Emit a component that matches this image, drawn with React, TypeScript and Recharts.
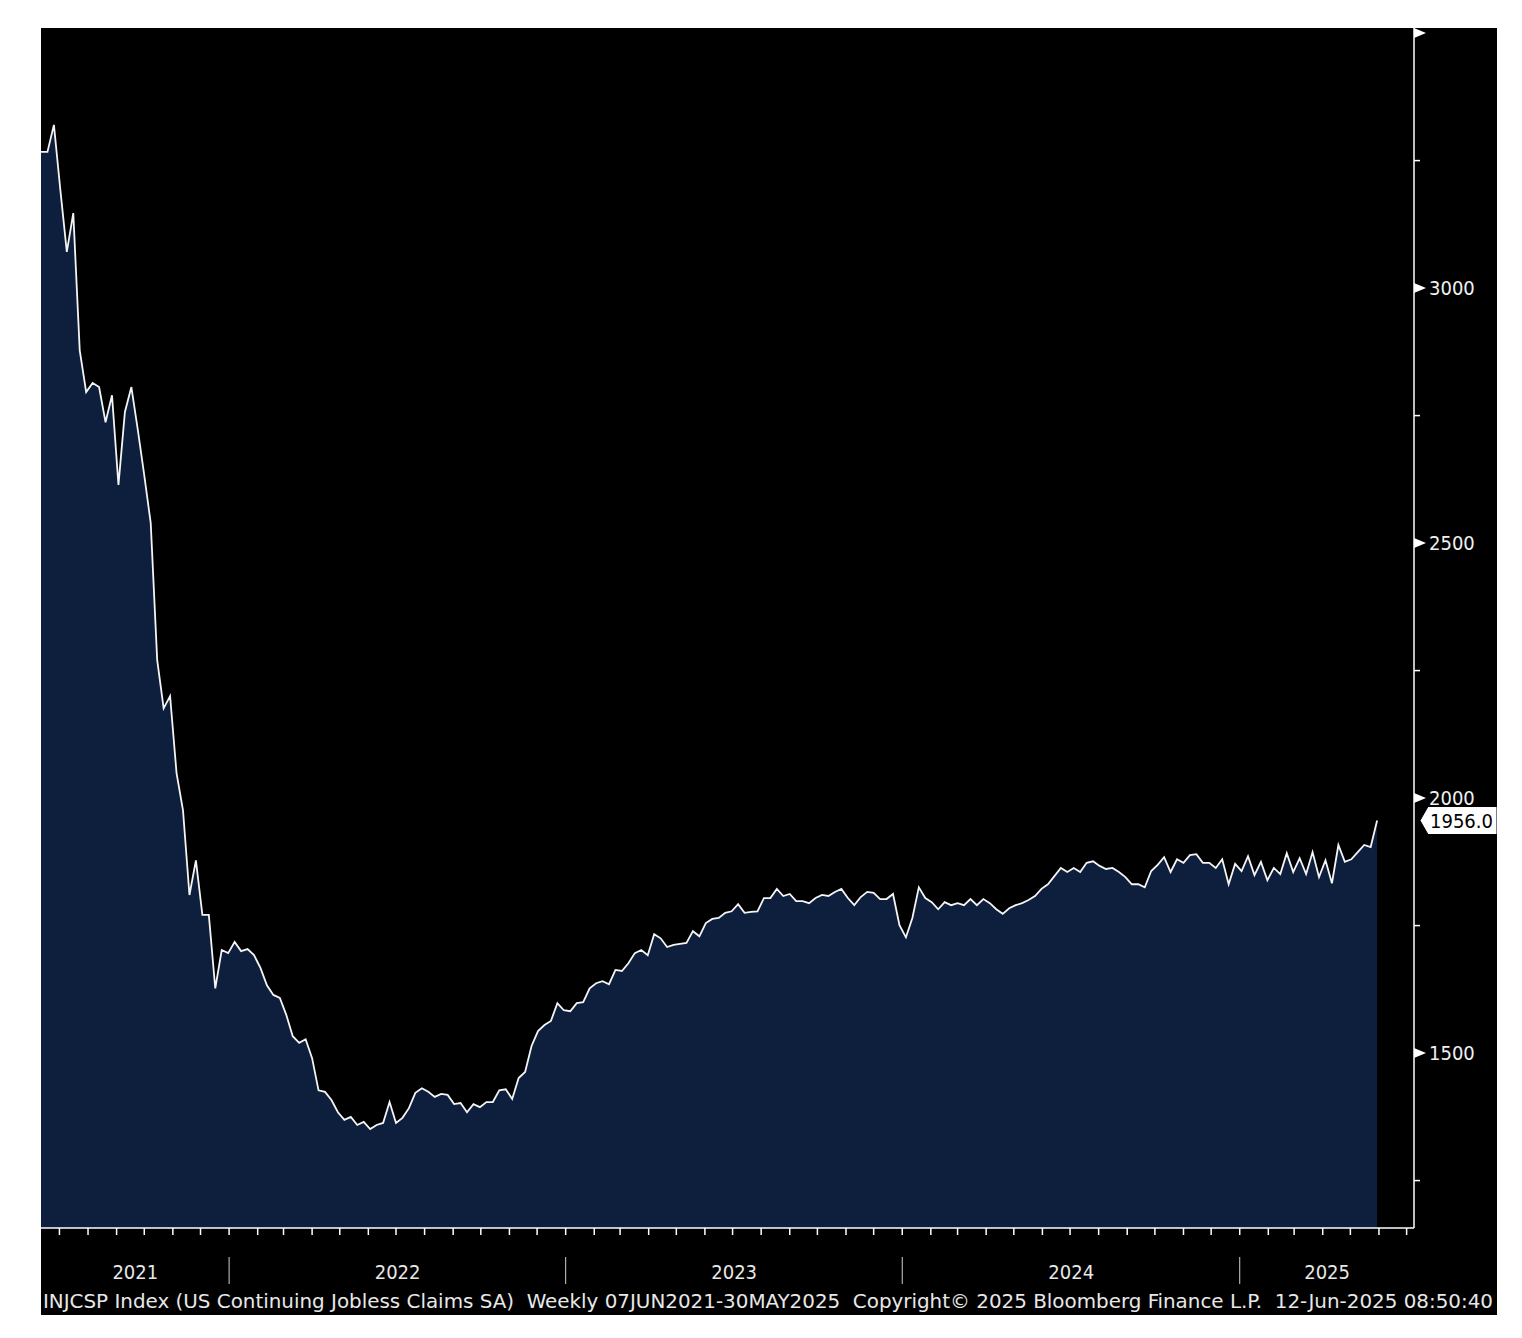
import { AreaChart, Area, XAxis, YAxis } from "recharts";

// weekly points, first plotted week (Fridays) through 30MAY2025
const startDate = "2021-06-11";
const claims = [
  3267, 3267, 3320, 3192, 3071, 3147, 2878, 2796, 2814, 2806, 2737, 2790, 2614, 2757, 2806, 2722, 2633, 2539,
  2271, 2176, 2200, 2049, 1976, 1810, 1878, 1771, 1771, 1627, 1702, 1696, 1718,
  1700, 1704, 1692, 1667, 1633, 1614, 1608, 1575, 1533, 1520, 1527, 1490, 1427, 1424, 1408, 1384, 1369, 1375,
  1359, 1365, 1351, 1359, 1363, 1404, 1363, 1373, 1392, 1422,
  1431, 1424, 1414, 1420, 1418, 1400, 1402, 1384, 1400, 1394, 1404, 1404, 1427, 1429, 1410, 1451, 1463, 1514,
  1543, 1555, 1563, 1598, 1584, 1582, 1598, 1600, 1627, 1637, 1641, 1635, 1663,
  1661, 1676, 1696, 1702, 1692, 1733, 1725, 1708, 1712, 1714, 1716, 1739, 1729, 1755, 1763, 1765, 1775, 1778,
  1792, 1775, 1777, 1778,
  1804, 1804, 1822, 1808, 1812, 1798, 1798, 1794, 1804, 1810, 1808, 1816, 1822, 1804, 1790, 1806, 1816, 1814,
  1802, 1802, 1812, 1751, 1727, 1765, 1825, 1804, 1796, 1782, 1796, 1790, 1794, 1790, 1802, 1790, 1802, 1794, 1782,
  1773, 1784, 1790, 1794, 1800, 1808, 1822, 1831, 1847, 1863, 1855, 1863, 1855, 1873, 1876, 1867, 1861, 1863,
  1855, 1845, 1831, 1831, 1825, 1857, 1869, 1884, 1855, 1880, 1873, 1888, 1890, 1873, 1873, 1863, 1880, 1831, 1871,
  1857, 1886, 1849, 1875, 1839, 1863, 1851, 1892, 1855, 1882, 1851, 1894, 1845, 1878, 1833, 1908, 1875, 1880,
  1894, 1908, 1904, 1956,
];
const yTicks = [3500, 3250, 3000, 2750, 2500, 2250, 2000, 1750, 1500, 1250];
const years = [2021, 2022, 2023, 2024, 2025];
const lastLabel = "1956.0";
const footer =
  "INJCSP Index (US Continuing Jobless Claims SA)  Weekly 07JUN2021-30MAY2025  Copyright\u00a9 2025 Bloomberg Finance L.P.  12-Jun-2025 08:50:40";

const FONT = "'DejaVu Sans Condensed', 'DejaVu Sans', sans-serif";
const DAY = 86400000;
const t0 = Date.parse(startDate + "T00:00:00Z");
const dayOf = (y: number, m: number, d: number) => Math.round((Date.UTC(y, m, d) - t0) / DAY);

const data = claims.map((v, i) => ({ day: i * 7, claims: v }));
const lastDay = 1489; // right edge of the plot, a few weeks past the last point
const lastValue = claims[claims.length - 1];

const monthTicks: number[] = [];
for (const y of years) {
  for (let m = 0; m < 12; m++) {
    const d = dayOf(y, m, 1);
    if (d > 0 && d <= lastDay) monthTicks.push(d);
  }
}
const yearStarts = new Set(years.slice(1).map((y) => dayOf(y, 0, 1)));
const bounds = [0, ...years.slice(1).map((y) => dayOf(y, 0, 1)), lastDay];
const labelAt = new Map<number, string>();
years.forEach((y, i) => labelAt.set((bounds[i] + bounds[i + 1]) / 2 + 0.25, String(y)));
const xTicks = [...monthTicks, ...labelAt.keys()];

const XTick = (props: any) => {
  const { x, y, payload } = props;
  const label = labelAt.get(payload.value);
  if (label) {
    return (
      <text x={x} y={y + 51} textAnchor="middle" fill="#e8e8e8" fontSize={20} fontFamily={FONT}>
        {label}
      </text>
    );
  }
  return (
    <g>
      <line x1={x} x2={x} y1={y} y2={y + 7} stroke="#fff" strokeWidth={1.5} />
      {yearStarts.has(payload.value) && (
        <line x1={x} x2={x} y1={y + 29} y2={y + 56} stroke="#d0d0d0" strokeWidth={1} />
      )}
    </g>
  );
};

const YTick = (props: any) => {
  const { x, y, payload } = props;
  const v = payload.value;
  if (v === lastValue) {
    return (
      <g>
        <polygon
          points={`${x + 6},${y} ${x + 14},${y - 14} ${x + 83},${y - 14} ${x + 83},${y + 14} ${x + 14},${y + 14}`}
          fill="#fff"
          stroke="#000"
          strokeWidth={1}
        />
        <text x={x + 16} y={y} dominantBaseline="central" fill="#000" fontSize={20} fontFamily={FONT}>
          {lastLabel}
        </text>
      </g>
    );
  }
  if (v % 500 === 0) {
    return (
      <g>
        <polygon points={`${x},${y - 5} ${x + 12},${y} ${x},${y + 5}`} fill="#fff" />
        {v !== 3500 && (
          <text x={x + 15} y={y} dominantBaseline="central" fill="#f0f0f0" fontSize={20} fontFamily={FONT}>
            {v}
          </text>
        )}
      </g>
    );
  }
  return <line x1={x} x2={x + 6} y1={y} y2={y} stroke="#fff" strokeWidth={1.5} />;
};

export default function App() {
  return (
    <div style={{ position: "absolute", left: 0, top: 0, width: 1522, height: 1338, background: "#fff" }}>
      <div style={{ position: "absolute", left: 41, top: 28, width: 1456, height: 1287, background: "#000" }}>
        <AreaChart width={1456} height={1287} data={data} margin={{ top: 0, right: 0, bottom: 0, left: 0 }}>
          <XAxis
            dataKey="day"
            type="number"
            domain={[0, lastDay]}
            allowDataOverflow
            ticks={xTicks}
            interval={0}
            tick={(p: any) => <XTick {...p} />}
            tickLine={false}
            tickSize={0}
            tickMargin={0}
            height={87}
            axisLine={{ stroke: "#fff", strokeWidth: 1.5 }}
          />
          <YAxis
            orientation="right"
            type="number"
            domain={[1157, 3510]}
            allowDataOverflow
            ticks={[...yTicks, lastValue]}
            interval={0}
            tick={(p: any) => <YTick {...p} />}
            tickLine={false}
            tickSize={0}
            tickMargin={0}
            width={83}
            axisLine={{ stroke: "#fff", strokeWidth: 1.5 }}
          />
          <Area
            type="linear"
            dataKey="claims"
            stroke="#f4f4f4"
            strokeWidth={1.8}
            fill="#0d1f3c"
            fillOpacity={1}
            baseValue="dataMin"
            dot={false}
            activeDot={false}
            isAnimationActive={false}
          />
        </AreaChart>
      </div>
      <svg
        width={1522}
        height={1338}
        style={{ position: "absolute", left: 0, top: 0, pointerEvents: "none" }}
      >
        <text
          x={43}
          y={1308}
          fill="#e8e8e8"
          fontSize={20}
          fontFamily={FONT}
          textLength={1450}
          lengthAdjust="spacingAndGlyphs"
          style={{ whiteSpace: "pre" }}
        >
          {footer}
        </text>
      </svg>
    </div>
  );
}
